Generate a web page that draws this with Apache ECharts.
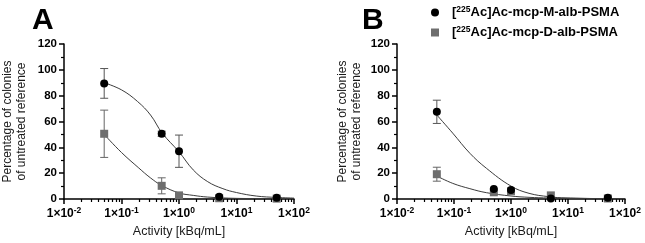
<!DOCTYPE html>
<html>
<head>
<meta charset="utf-8">
<script src="https://cdn.jsdelivr.net/npm/echarts@6/dist/echarts.min.js"></script>
<style>
html, body { margin: 0; padding: 0; background: #fff; }
#chart { width: 645px; height: 243px; }
</style>
</head>
<body>
<div id="chart"></div>
<script>
// measured points (activity in kBq/mL, % of untreated reference)
var doses = [0.05, 0.5, 1, 5, 50];
var aM = [89.5, 50.5, 37, 1.8, 1];
var aMErr = [11.5, 2, 12.5, 0, 0];
var aD = [50.5, 10.2, 2.8, 0.6, 0.3];
var aDErr = [18.3, 6.2, 0, 0, 0];
var bM = [67.5, 7.8, 7, 0.4, 1];
var bMErr = [9, 0, 0, 0, 0];
var bD = [19.2, 5.2, 6, 2.8, 0.4];
var bDErr = [5.4, 0, 0, 0, 0];

// fitted curves
var aMFitX = [0.05, 0.1, 0.19, 0.32, 0.51, 1, 1.77, 3.16, 5.8, 10, 22, 50, 100];
var aMFitY = [90, 84.5, 75.5, 65, 51, 36.5, 22.5, 13.4, 8, 5, 2.3, 1.2, 0.7];
var aDFitX = [0.05, 0.1, 0.2, 0.316, 0.5, 1, 1.77, 3.16, 10, 100];
var aDFitY = [50, 36, 24, 16.5, 10.5, 4.7, 2.8, 1.5, 0.5, 0.1];
var bMFitX = [0.05, 0.095, 0.19, 0.37, 1, 2.07, 4.6, 9.2, 100];
var bMFitY = [65, 51, 35.4, 23.8, 10, 4.4, 1.8, 0.8, 0.1];
var bDFitX = [0.05, 0.095, 0.19, 0.37, 1, 2.07, 4.6, 100];
var bDFitY = [17.8, 12.1, 8, 4.9, 2.3, 1.3, 0.8, 0.1];

var panelLetters = ["A", "B"];
var nameM = "[225Ac]Ac-mcp-M-alb-PSMA";
var nameD = "[225Ac]Ac-mcp-D-alb-PSMA";
var yName = "Percentage of colonies\nof untreated reference";
var xName = "Activity [kBq/mL]";

var font = "'Liberation Sans', Arial, sans-serif";
var colM = "#000000";
var colD = "#6e6e6e";
var colFit = "#3c3c3c";

function pairs(xs, ys) {
  return xs.map(function (x, i) { return [x, ys[i]]; });
}
function errData(ys, errs) {
  var out = [];
  doses.forEach(function (x, i) {
    if (errs[i] > 0) out.push([x, ys[i] - errs[i], ys[i] + errs[i]]);
  });
  return out;
}

function renderErr(params, api) {
  var lo = api.coord([api.value(0), api.value(1)]);
  var hi = api.coord([api.value(0), api.value(2)]);
  var w = 4;
  var st = { stroke: api.visual("color"), lineWidth: 1 };
  return {
    type: "group",
    children: [
      { type: "line", shape: { x1: lo[0], y1: lo[1], x2: hi[0], y2: hi[1] }, style: st },
      { type: "line", shape: { x1: lo[0] - w, y1: lo[1], x2: lo[0] + w, y2: lo[1] }, style: st },
      { type: "line", shape: { x1: hi[0] - w, y1: hi[1], x2: hi[0] + w, y2: hi[1] }, style: st }
    ]
  };
}

function xAxisOpt(idx) {
  return {
    type: "log",
    logBase: 10,
    gridIndex: idx,
    min: 0.01,
    max: 100,
    name: xName,
    nameLocation: "middle",
    nameGap: 25,
    nameTextStyle: { fontFamily: font, fontSize: 12.5, color: "#1a1a1a" },
    axisLine: { lineStyle: { color: "#000", width: 1.5 } },
    axisTick: { length: 5, lineStyle: { color: "#000", width: 1.5 } },
    minorTick: { show: true, splitNumber: 9, length: 3, lineStyle: { color: "#000", width: 1.2 } },
    splitLine: { show: false },
    axisLabel: {
      margin: 7,
      formatter: function (v) {
        var e = Math.round(Math.log10(v));
        return "{b|1×10}{s|" + e + "}";
      },
      rich: {
        b: { fontFamily: font, fontSize: 12, fontWeight: "bold", color: "#000", lineHeight: 16 },
        s: { fontFamily: font, fontSize: 8.5, fontWeight: "bold", color: "#000", verticalAlign: "top", lineHeight: 16 }
      }
    }
  };
}

function yAxisOpt(idx, gap) {
  return {
    type: "value",
    gridIndex: idx,
    min: 0,
    max: 120,
    interval: 20,
    name: yName,
    nameLocation: "middle",
    nameGap: gap,
    nameTextStyle: { fontFamily: font, fontSize: 12, color: "#1a1a1a", lineHeight: 14 },
    axisLine: { show: true, lineStyle: { color: "#000", width: 1.5 } },
    axisTick: { show: true, length: 5, lineStyle: { color: "#000", width: 1.5 } },
    minorTick: { show: true, splitNumber: 2, length: 3, lineStyle: { color: "#000", width: 1.2 } },
    splitLine: { show: false },
    axisLabel: { margin: 7, fontFamily: font, fontSize: 11.5, fontWeight: "bold", color: "#000" }
  };
}

function panelSeries(idx, mY, mErr, dY, dErr, mfx, mfy, dfx, dfy) {
  var base = { xAxisIndex: idx, yAxisIndex: idx };
  return [
    Object.assign({ type: "line", name: "fitM" + idx, data: pairs(mfx, mfy), smooth: 0.4, showSymbol: false,
      lineStyle: { color: colFit, width: 1 }, silent: true, z: 2 }, base),
    Object.assign({ type: "line", name: "fitD" + idx, data: pairs(dfx, dfy), smooth: 0.4, showSymbol: false,
      lineStyle: { color: colFit, width: 1 }, silent: true, z: 2 }, base),
    Object.assign({ type: "custom", name: "errD" + idx, renderItem: renderErr, data: errData(dY, dErr),
      itemStyle: { color: "#666" }, encode: { x: 0, y: [1, 2] }, z: 3 }, base),
    Object.assign({ type: "custom", name: "errM" + idx, renderItem: renderErr, data: errData(mY, mErr),
      itemStyle: { color: "#555" }, encode: { x: 0, y: [1, 2] }, z: 3 }, base),
    Object.assign({ type: "scatter", name: nameD, data: pairs(doses, dY), symbol: "rect", symbolSize: 8,
      itemStyle: { color: colD, opacity: 1 }, z: 4 }, base),
    Object.assign({ type: "scatter", name: nameM, data: pairs(doses, mY), symbol: "circle", symbolSize: 8,
      itemStyle: { color: colM, opacity: 1 }, z: 5 }, base)
  ];
}

var chart = echarts.init(document.getElementById("chart"));
chart.setOption({
  animation: false,
  backgroundColor: "#fff",
  title: [
    { text: panelLetters[0], left: 32, top: 6, padding: 0,
      textStyle: { fontFamily: font, fontSize: 30, fontWeight: "bold", color: "#000" } },
    { text: panelLetters[1], left: 362, top: 6, padding: 0,
      textStyle: { fontFamily: font, fontSize: 30, fontWeight: "bold", color: "#000" } }
  ],
  legend: {
    orient: "vertical",
    left: 431,
    top: 5,
    padding: 0,
    itemGap: 6,
    itemWidth: 8,
    itemHeight: 8,
    data: [{ name: nameM, icon: "circle" }, { name: nameD, icon: "rect" }],
    formatter: function (n) {
      return "{t|[}{s|225}{t|" + n.slice(4) + "}";
    },
    textStyle: {
      padding: [0, 0, 0, 8],
      rich: {
        t: { fontFamily: font, fontSize: 13, fontWeight: "bold", color: "#000", lineHeight: 15 },
        s: { fontFamily: font, fontSize: 8.5, fontWeight: "bold", color: "#000", verticalAlign: "top", lineHeight: 15 }
      }
    }
  },
  grid: [
    { left: 64, top: 44, width: 230, height: 155 },
    { left: 397, top: 44, width: 228, height: 155 }
  ],
  xAxis: [xAxisOpt(0), xAxisOpt(1)],
  yAxis: [yAxisOpt(0, 35), yAxisOpt(1, 33)],
  series: []
    .concat(panelSeries(0, aM, aMErr, aD, aDErr, aMFitX, aMFitY, aDFitX, aDFitY))
    .concat(panelSeries(1, bM, bMErr, bD, bDErr, bMFitX, bMFitY, bDFitX, bDFitY))
});
</script>
</body>
</html>
